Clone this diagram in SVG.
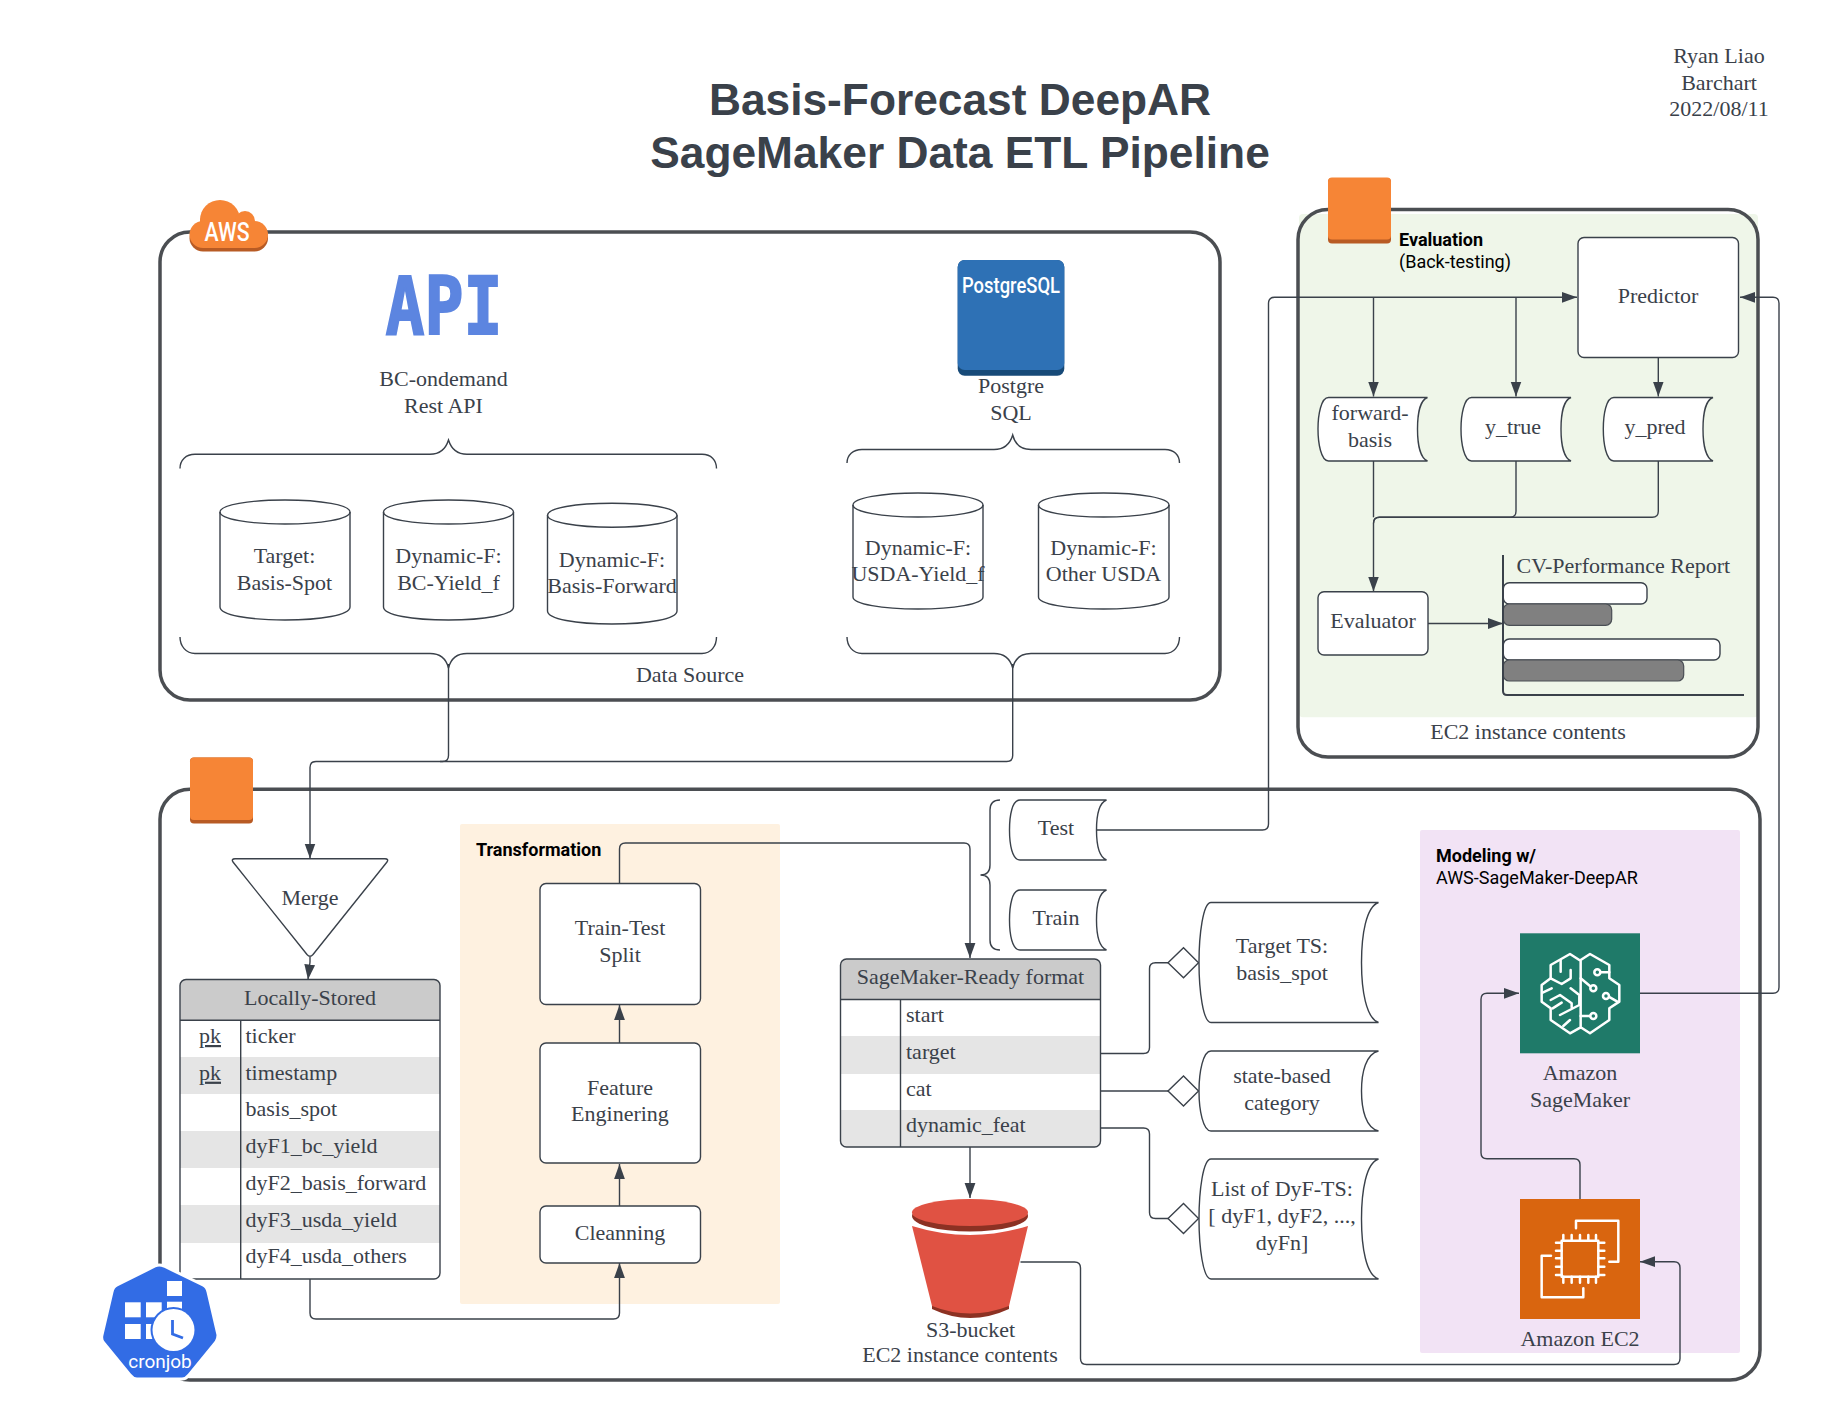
<svg xmlns="http://www.w3.org/2000/svg" width="1840" height="1423" viewBox="0 0 1840 1423">
<defs>
<style>
text{font-family:"Liberation Serif","Times New Roman",serif;font-size:22px;fill:#3a414a}
.c{text-anchor:middle}
.title{font-family:"Liberation Sans",Arial,sans-serif;font-weight:700;font-size:44.300px;text-anchor:middle}
.lab{font-family:Roboto,"Liberation Sans",sans-serif;font-size:18px;fill:#000}
.b{font-weight:700}
.frame{fill:none;stroke:#4b4e52;stroke-width:3.500}
.n{fill:#fff;stroke:#3a414a;stroke-width:1.400}
.nn{fill:none;stroke:#3a414a;stroke-width:1.400}
.con{fill:none;stroke:#3a414a;stroke-width:1.400;stroke-linejoin:round}
.arr{marker-end:url(#ah)}
.org{fill:#f68536}
.orgd{fill:#b85b24}
.head{fill:#cbcbcb}
.gray{fill:#e5e5e5}
.w{fill:none;stroke:#fff;stroke-width:7.500;stroke-linejoin:round;stroke-linecap:round}
.ws{fill:#fff}
.bar{fill:#808080;stroke:#4a4f55;stroke-width:1.200}
</style>
<marker id="ah" markerUnits="userSpaceOnUse" markerWidth="16" markerHeight="12" refX="15" refY="6" orient="auto">
<path d="M0,0.600 L15,6 L0,11.400 Z" fill="#3a414a"/>
</marker>
</defs>
<rect width="1840" height="1423" fill="#fff"/>

<g id="title">
<text class="title" x="960" y="115">Basis-Forecast DeepAR</text>
<text class="title" x="960" y="168">SageMaker Data ETL Pipeline</text>
</g>
<g id="author">
<text class="c" x="1719" y="63">Ryan Liao</text>
<text class="c" x="1719" y="89.700">Barchart</text>
<text class="c" x="1719" y="116.300">2022/08/11</text>
</g>

<g id="aws-frame">
<rect class="frame" x="160" y="232" width="1060" height="468" rx="30"/>
<text class="c" x="690" y="682">Data Source</text>
</g>
<g id="eval-frame">
<rect x="1299" y="214" width="459" height="503.300" rx="4" fill="#eff6e9"/>
<rect class="frame" x="1298" y="209.500" width="460" height="547.500" rx="30"/>
<text class="c" x="1528" y="739">EC2 instance contents</text>
</g>
<g id="pipeline-frame">
<rect class="frame" x="160" y="789.300" width="1600" height="590.700" rx="30"/>
</g>
<g id="transformation-panel">
<rect x="460" y="824" width="320" height="480" rx="2" fill="#fef1e0"/>
<text class="lab b" x="476" y="856">Transformation</text>
</g>
<g id="modeling-panel">
<rect x="1420" y="830" width="320" height="523" rx="2" fill="#f2e3f5"/>
<text class="lab b" x="1436" y="862">Modeling w/</text>
<text class="lab" x="1436" y="884">AWS-SageMaker-DeepAR</text>
</g>

<g id="connectors">
<path class="con" d="M448.500,664 V755.500 Q448.500,761.500 442.500,761.500 H316 Q310,761.500 310,767.500 V858.500" marker-end="url(#ah)"/>
<path class="con" d="M1012.700,664 V755.500 Q1012.700,761.500 1006.700,761.500 H440"/>
<path class="con arr" d="M310,957 V962 L308,979.500"/>
<path class="con arr" d="M310,1279 V1313 Q310,1319 316,1319 H613.500 Q619.500,1319 619.500,1313 V1263"/>
<path class="con arr" d="M619.500,1206 V1164"/>
<path class="con arr" d="M619.500,1043 V1005"/>
<path class="con arr" d="M619.500,883.500 V849 Q619.500,843 625.500,843 H964 Q970,843 970,849 V958"/>
<path class="con arr" d="M970,1147 V1198"/>
<path class="con" d="M1100.500,1053.500 H1143.500 Q1149.500,1053.500 1149.500,1047.500 V968.700 Q1149.500,962.700 1155.500,962.700 H1168"/>
<path class="con" d="M1100.500,1091 H1168"/>
<path class="con" d="M1100.500,1128 H1143.500 Q1149.500,1128 1149.500,1134 V1212.500 Q1149.500,1218.500 1155.500,1218.500 H1168"/>
<path class="con arr" d="M1020.500,1262 H1074.500 Q1080.500,1262 1080.500,1268 V1358.500 Q1080.500,1364.500 1086.500,1364.500 H1674 Q1680,1364.500 1680,1358.500 V1267.700 Q1680,1261.700 1674,1261.700 H1640"/>
<path class="con arr" d="M1580,1199 V1164.700 Q1580,1158.700 1574,1158.700 H1487 Q1481,1158.700 1481,1152.700 V999.300 Q1481,993.300 1487,993.300 H1519"/>
<path class="con arr" d="M1640,993.300 H1773 Q1779,993.300 1779,987.300 V303.300 Q1779,297.300 1773,297.300 H1740"/>
<path class="con arr" d="M1096,830 H1262.500 Q1268.500,830 1268.500,824 V303.300 Q1268.500,297.300 1274.500,297.300 H1577"/>
<path class="con arr" d="M1373.500,297.300 V396.500"/>
<path class="con arr" d="M1516,297.300 V396.500"/>
<path class="con arr" d="M1658.300,358 V396.500"/>
<path class="con" d="M1373.500,461 V517.300"/>
<path class="con" d="M1516,461 V511.300 Q1516,517.300 1510,517.300 H1379.500 Q1373.500,517.300 1373.500,523.300"/>
<path class="con arr" d="M1658.300,461 V511.300 Q1658.300,517.300 1652.300,517.300 H1379.500 Q1373.500,517.300 1373.500,523.300 V591.500"/>
<path class="con arr" d="M1428,623.500 H1503"/>
</g>

<g id="aws-badge">
<g fill="#b85b24" transform="translate(0,3.500)">
<circle cx="220" cy="220" r="20"/><circle cx="245" cy="221" r="10"/><rect x="189.500" y="221" width="78.500" height="27" rx="13.500"/>
</g>
<g class="org">
<circle cx="220" cy="220" r="20"/><circle cx="245" cy="221" r="10"/><rect x="189.500" y="221" width="78.500" height="27" rx="13.500"/>
</g>
<text x="227" y="241" class="c" style="font-family:Roboto,'Liberation Sans',sans-serif;font-size:26px;font-weight:500;fill:#fff" textLength="45" lengthAdjust="spacingAndGlyphs">AWS</text>
</g>

<g id="api-source">
<text x="385.500" y="334" style="font-family:'DejaVu Sans Mono',monospace;font-weight:700;font-size:81px;fill:#5c85e0;stroke:#5c85e0;stroke-width:2" textLength="117" lengthAdjust="spacingAndGlyphs">API</text>
<text class="c" x="443.500" y="386">BC-ondemand</text>
<text class="c" x="443.500" y="412.700">Rest API</text>
</g>

<g id="postgres-source">
<rect x="957.700" y="260" width="106.600" height="115.700" rx="7" fill="#174a78"/>
<rect x="957.700" y="260" width="106.600" height="110" rx="7" fill="#2e71b5"/>
<text class="c" x="1011" y="293" style="font-family:Roboto,'Liberation Sans',sans-serif;font-size:22px;font-weight:500;fill:#fff" textLength="98" lengthAdjust="spacingAndGlyphs">PostgreSQL</text>
<text class="c" x="1011" y="393.300">Postgre</text>
<text class="c" x="1011" y="420">SQL</text>
</g>

<g id="braces">
<path class="nn" d="M180,468.500 C180,460 186,454.300 195,454.300 H430 C440,454.300 446,448 448.500,440 C451,448 457,454.300 467,454.300 H702 C711,454.300 716.500,460 716.500,468.500"/>
<path class="nn" d="M180,637 C180,646 186,653.500 195,653.500 H430 C440,653.500 446,658 448.500,668 C451,658 457,653.500 467,653.500 H702 C711,653.500 716.500,646 716.500,637"/>
<path class="nn" d="M847,463 C847,455 853,449.500 862,449.500 H994 C1004,449.500 1010,444 1012.700,435 C1015,444 1021,449.500 1031,449.500 H1165 C1174,449.500 1179.500,455 1179.500,463"/>
<path class="nn" d="M847,637 C847,646 853,653.500 862,653.500 H994 C1004,653.500 1010,658 1012.700,668 C1015,658 1021,653.500 1031,653.500 H1165 C1174,653.500 1179.500,646 1179.500,637"/>
</g>

<g id="cyl-target">
<path class="n" d="M220,512 C220,505 249,500 285,500 C321,500 350,505 350,512 V607 C350,615 321,620 285,620 C249,620 220,615 220,607 Z"/>
<path class="nn" d="M220,512 C220,519 249,524 285,524 C321,524 350,519 350,512"/>
<text class="c" x="284.500" y="563">Target:</text><text class="c" x="284.500" y="589.500">Basis-Spot</text>
</g>
<g id="cyl-bc-yield">
<path class="n" d="M383.500,512 C383.500,505 412,500 448.500,500 C484,500 513.500,505 513.500,512 V607 C513.500,615 484,620 448.500,620 C412,620 383.500,615 383.500,607 Z"/>
<path class="nn" d="M383.500,512 C383.500,519 412,524 448.500,524 C484,524 513.500,519 513.500,512"/>
<text class="c" x="448.500" y="563">Dynamic-F:</text><text class="c" x="448.500" y="589.500">BC-Yield_f</text>
</g>
<g id="cyl-basis-forward">
<path class="n" d="M547.500,515.300 C547.500,508 576,503.300 612,503.300 C648,503.300 677,508 677,515.300 V611 C677,619 648,624 612,624 C576,624 547.500,619 547.500,611 Z"/>
<path class="nn" d="M547.500,515.300 C547.500,522 576,527.300 612,527.300 C648,527.300 677,522 677,515.300"/>
<text class="c" x="612" y="566.700">Dynamic-F:</text><text class="c" x="612" y="593.300">Basis-Forward</text>
</g>
<g id="cyl-usda-yield">
<path class="n" d="M853,505 C853,498 882,493 918,493 C954,493 983,498 983,505 V597 C983,604 954,609 918,609 C882,609 853,604 853,597 Z"/>
<path class="nn" d="M853,505 C853,512 882,517 918,517 C954,517 983,512 983,505"/>
<text class="c" x="918" y="554.500">Dynamic-F:</text><text class="c" x="918" y="581">USDA-Yield_f</text>
</g>
<g id="cyl-other-usda">
<path class="n" d="M1038.500,505 C1038.500,498 1067,493 1103.500,493 C1140,493 1169,498 1169,505 V597 C1169,604 1140,609 1103.500,609 C1067,609 1038.500,604 1038.500,597 Z"/>
<path class="nn" d="M1038.500,505 C1038.500,512 1067,517 1103.500,517 C1140,517 1169,512 1169,505"/>
<text class="c" x="1103.500" y="554.500">Dynamic-F:</text><text class="c" x="1103.500" y="581">Other USDA</text>
</g>

<g id="eval-badge">
<rect class="orgd" x="1328" y="178" width="63" height="65.500" rx="4"/>
<rect class="org" x="1328" y="177.500" width="63" height="62" rx="4"/>
</g>
<g id="eval-label">
<text class="lab b" x="1399" y="246">Evaluation</text>
<text class="lab" x="1399" y="267.500">(Back-testing)</text>
</g>
<g id="predictor">
<rect class="n" x="1578" y="237.500" width="160.500" height="120" rx="6"/>
<text class="c" x="1658" y="303">Predictor</text>
</g>
<g id="doc-forward-basis">
<path class="n" d="M1328.500,397.500 H1427.500 C1420,400 1417.500,415 1417.500,429 C1417.500,443 1420,458 1427.500,461 H1328.500 C1321,461 1318,443 1318,429 C1318,415 1321,397.500 1328.500,397.500 Z"/>
<text class="c" x="1370" y="420">forward-</text><text class="c" x="1370" y="447">basis</text>
</g>
<g id="doc-y-true">
<path class="n" d="M1471.500,397.500 H1571 C1563.500,400 1561,415 1561,429 C1561,443 1563.500,458 1571,461 H1471.500 C1464,461 1461,443 1461,429 C1461,415 1464,397.500 1471.500,397.500 Z"/>
<text class="c" x="1513" y="434">y_true</text>
</g>
<g id="doc-y-pred">
<path class="n" d="M1613.800,397.500 H1713 C1705.500,400 1703,415 1703,429 C1703,443 1705.500,458 1713,461 H1613.800 C1606,461 1603.300,443 1603.300,429 C1603.300,415 1606,397.500 1613.800,397.500 Z"/>
<text class="c" x="1655" y="434">y_pred</text>
</g>
<g id="evaluator">
<rect class="n" x="1318" y="591.700" width="110" height="63.300" rx="6"/>
<text class="c" x="1373" y="628.300">Evaluator</text>
</g>
<g id="cv-report">
<rect class="n" x="1503.300" y="582.700" width="143.700" height="21.300" rx="6"/>
<rect class="bar" x="1503.300" y="604" width="108.400" height="21.300" rx="6"/>
<rect class="n" x="1503.300" y="639" width="216.700" height="21" rx="6"/>
<rect class="bar" x="1503.300" y="660" width="180.400" height="21" rx="6"/>
<path fill="none" stroke="#3a414a" stroke-width="2" d="M1503,555 V691 Q1503,695 1507,695 H1744"/>
<text x="1516.500" y="573.300">CV-Performance Report</text>
</g>

<g id="pipeline-badge">
<rect class="orgd" x="190" y="757.500" width="63" height="66" rx="4"/>
<rect class="org" x="190" y="757.500" width="63" height="62.500" rx="4"/>
</g>
<g id="merge">
<path class="n" stroke-linejoin="round" d="M235,858.700 H385 Q389,858.700 387,862 L313,954.500 Q310,958 307,954.500 L233,862 Q231,858.700 235,858.700 Z"/>
<text class="c" x="310" y="905">Merge</text>
</g>
<g id="locally-stored">
<rect x="180" y="979.500" width="260" height="299.500" rx="6" fill="#fff"/>
<path class="head" d="M186,979.500 H434 Q440,979.500 440,985.500 V1020.300 H180 V985.500 Q180,979.500 186,979.500 Z"/>
<rect class="gray" x="180" y="1057" width="260" height="37"/>
<rect class="gray" x="180" y="1131" width="260" height="37"/>
<rect class="gray" x="180" y="1205" width="260" height="38"/>
<path class="nn" d="M180,1020.300 H440 M240.700,1020.300 V1279"/>
<rect class="nn" x="180" y="979.500" width="260" height="299.500" rx="6"/>
<text class="c" x="310" y="1004.500">Locally-Stored</text>
<text class="c" x="210" y="1043" text-decoration="underline">pk</text>
<text class="c" x="210" y="1079.700" text-decoration="underline">pk</text>
<text x="245.500" y="1043">ticker</text>
<text x="245.500" y="1079.700">timestamp</text>
<text x="245.500" y="1116.400">basis_spot</text>
<text x="245.500" y="1153">dyF1_bc_yield</text>
<text x="245.500" y="1190">dyF2_basis_forward</text>
<text x="245.500" y="1226.700">dyF3_usda_yield</text>
<text x="245.500" y="1263.400">dyF4_usda_others</text>
</g>
<g id="train-test-split">
<rect class="n" x="540" y="883.500" width="160.500" height="121" rx="6"/>
<text class="c" x="620" y="935">Train-Test</text><text class="c" x="620" y="962">Split</text>
</g>
<g id="feature-engineering">
<rect class="n" x="540" y="1043" width="160.500" height="120" rx="6"/>
<text class="c" x="620" y="1095">Feature</text><text class="c" x="620" y="1121">Enginering</text>
</g>
<g id="cleaning">
<rect class="n" x="540" y="1206" width="160.500" height="57" rx="6"/>
<text class="c" x="620" y="1240">Cleanning</text>
</g>
<g id="split-brace">
<path class="nn" d="M1000,800 C993,800 990,803 990,810 V865 C990,872 986,875 980.500,875 C986,875 990,878 990,885 V940 C990,947 993,950 1000,950"/>
</g>
<g id="doc-test">
<path class="n" d="M1020,800 H1106.500 C1099,803 1096.500,816 1096.500,830 C1096.500,844 1099,857 1106.500,860 H1020 C1012,860 1009.500,844 1009.500,830 C1009.500,816 1012,800 1020,800 Z"/>
<text class="c" x="1056" y="835">Test</text>
</g>
<g id="doc-train">
<path class="n" d="M1020,890 H1106.500 C1099,893 1096.500,906 1096.500,920 C1096.500,934 1099,947 1106.500,950 H1020 C1012,950 1009.500,934 1009.500,920 C1009.500,906 1012,890 1020,890 Z"/>
<text class="c" x="1056" y="925">Train</text>
</g>
<g id="sagemaker-ready">
<rect x="840.500" y="959" width="260" height="188" rx="6" fill="#fff"/>
<path class="head" d="M846.500,959 H1094.500 Q1100.500,959 1100.500,965 V999.500 H840.500 V965 Q840.500,959 846.500,959 Z"/>
<rect class="gray" x="840.500" y="1036" width="260" height="38"/>
<path class="gray" d="M840.500,1110 H1100.500 V1141 Q1100.500,1147 1094.500,1147 H846.500 Q840.500,1147 840.500,1141 Z"/>
<path class="nn" d="M840.500,999.500 H1100.500 M900.500,999.500 V1147"/>
<rect class="nn" x="840.500" y="959" width="260" height="188" rx="6"/>
<text class="c" x="970.500" y="984">SageMaker-Ready format</text>
<text x="906" y="1022">start</text>
<text x="906" y="1059">target</text>
<text x="906" y="1095.500">cat</text>
<text x="906" y="1132">dynamic_feat</text>
</g>
<g id="s3-bucket">
<path fill="#8c3123" d="M932,1305 L1009,1305 L1009,1309 Q970,1327 932,1309 Z"/>
<path fill="#e05243" d="M912,1226 Q970,1244 1028,1226 L1009,1306 Q970,1321 932,1306 Z"/>
<ellipse cx="970" cy="1216" rx="58" ry="15.500" fill="#8c3123"/>
<ellipse cx="970" cy="1212.500" rx="58" ry="13.500" fill="#e05243"/>
<text class="c" x="970.500" y="1337">S3-bucket</text>
<text class="c" x="960" y="1361.500">EC2 instance contents</text>
</g>
<g id="target-ts">
<path class="n" d="M1168,962.700 L1183.500,947.700 L1198.500,962.700 L1183.500,977.700 Z"/>
<path class="n" d="M1211,902.500 H1378.500 C1366,907 1361.500,935 1361.500,962.500 C1361.500,990 1366,1018 1378.500,1022.500 H1211 C1203,1022.500 1199,990 1199,962.500 C1199,935 1203,902.500 1211,902.500 Z"/>
<text class="c" x="1282" y="953">Target TS:</text><text class="c" x="1282" y="980">basis_spot</text>
</g>
<g id="state-category">
<path class="n" d="M1168,1091 L1183.500,1076 L1198.500,1091 L1183.500,1106 Z"/>
<path class="n" d="M1211,1051 H1378.500 C1366,1054 1361.500,1072 1361.500,1091 C1361.500,1110 1366,1128 1378.500,1131 H1211 C1203,1131 1199,1110 1199,1091 C1199,1072 1203,1051 1211,1051 Z"/>
<text class="c" x="1282" y="1083">state-based</text><text class="c" x="1282" y="1110">category</text>
</g>
<g id="dyf-list">
<path class="n" d="M1168,1218.500 L1183.500,1203.500 L1198.500,1218.500 L1183.500,1233.500 Z"/>
<path class="n" d="M1211,1159 H1378.500 C1366,1163 1361.500,1191 1361.500,1219 C1361.500,1247 1366,1275 1378.500,1279 H1211 C1203,1279 1199,1247 1199,1219 C1199,1191 1203,1159 1211,1159 Z"/>
<text class="c" x="1282" y="1196">List of DyF-TS:</text><text class="c" x="1282" y="1223">[ dyF1, dyF2, ...,</text><text class="c" x="1282" y="1249.500">dyFn]</text>
</g>
<g id="amazon-sagemaker">
<rect x="1520" y="933.300" width="120" height="120" fill="#1f7a69"/>
<g transform="translate(1480,920) scale(0.3333)">
<path class="w" d="M298,120 L270,102 L212,135 V175 L185,195 V245 L212,265 V300 L270,340 L302,322 V120 L330,102 L388,135 V175 L418,195 V245 L388,265 V300 L330,340 L302,322"/>
<path class="w" d="M302,175 L330,198 M362,157 H388 M390,232 L412,245 M330,288 H302 M242,120 V155 M272,150 V175 L245,192 L212,175 M272,205 L298,225 V255 L240,285 M188,218 L215,205 M212,240 L240,225 L275,250 V262 M218,265 L245,248 M250,318 L270,300"/>
<circle cx="340" cy="205" r="9" class="w"/><circle cx="352" cy="157" r="9" class="w"/><circle cx="378" cy="228" r="9" class="w"/><circle cx="340" cy="288" r="9" class="w"/>
</g>
<text class="c" x="1580" y="1080">Amazon</text>
<text class="c" x="1580" y="1106.700">SageMaker</text>
</g>
<g id="amazon-ec2">
<rect x="1520" y="1199" width="120" height="120" fill="#d9650f"/>
<g transform="translate(1480,920) scale(0.3333)">
<rect class="w" x="245" y="962" width="110" height="108"/>
<path class="w" d="M288,925 V902 H415 V1025 H388 M213,1007 H185 V1132 H310 V1105 M250,945 V962 M275,945 V962 M300,945 V962 M325,945 V962 M348,945 V962 M250,1070 V1088 M275,1070 V1088 M300,1070 V1088 M325,1070 V1088 M348,1070 V1088 M228,968 H245 M228,992 H245 M228,1015 H245 M228,1040 H245 M228,1065 H245 M355,968 H373 M355,992 H373 M355,1015 H373 M355,1040 H373 M355,1065 H373"/>
</g>
<text class="c" x="1580" y="1346">Amazon EC2</text>
</g>
<g id="cronjob">
<path fill="#326ce5" stroke="#fff" stroke-width="3" stroke-linejoin="round" d="M155,1266 Q159,1264 164,1266 L203,1285 Q207,1287 208,1292 L218,1335 Q218,1339 216,1342 L189,1375 Q186,1379 182,1379 L137,1379 Q133,1379 130,1375 L103,1342 Q101,1339 102,1335 L112,1292 Q113,1287 117,1285 Z"/>
<g class="ws">
<rect x="125" y="1302.300" width="15.700" height="15"/><rect x="146" y="1302.300" width="15.700" height="15"/><rect x="125" y="1324" width="15.700" height="15"/><rect x="146" y="1324" width="15.700" height="15"/><rect x="167" y="1281" width="15" height="15"/><rect x="167" y="1301.700" width="15" height="15"/>
</g>
<circle cx="173.500" cy="1330" r="23" fill="#326ce5"/>
<circle cx="173.500" cy="1330" r="21" fill="#fff"/>
<path fill="none" stroke="#326ce5" stroke-width="2.800" d="M172.500,1320 V1334 L183,1338"/>
<text class="c" x="160" y="1368" style="font-family:Roboto,'Liberation Sans',sans-serif;font-size:19px;fill:#fff">cronjob</text>
</g>
</svg>
